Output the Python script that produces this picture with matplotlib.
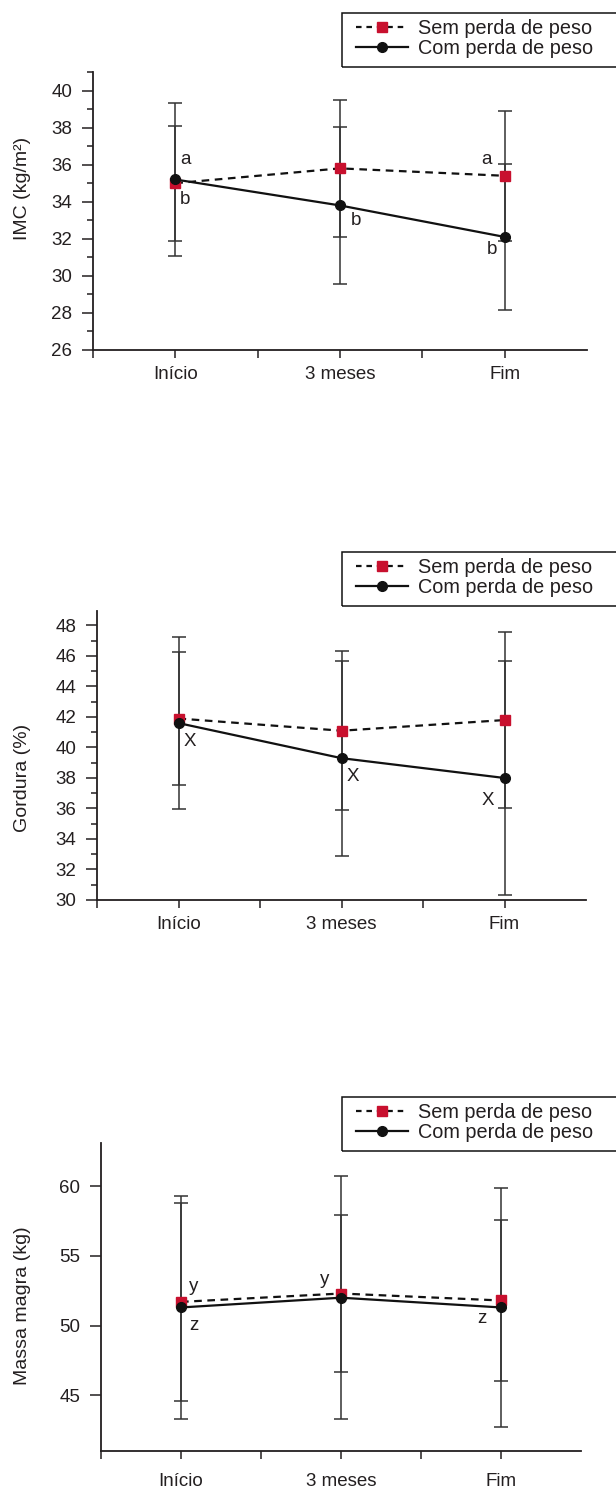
import numpy as np
import matplotlib
matplotlib.use("Agg")
import matplotlib.pyplot as plt
from matplotlib.lines import Line2D
from matplotlib.patches import Rectangle
from matplotlib.ticker import MultipleLocator, FixedLocator

plt.rcParams['font.family'] = ['Liberation Sans', 'DejaVu Sans']
plt.rcParams['lines.scale_dashes'] = False

TXT = '#231f20'
VERM = '#c8102e'

momentos = ["Início", "3 meses", "Fim"]
x = np.array([1, 2, 3])

# IMC (kg/m2)
imc_sem = [35.0, 35.8, 35.4]
imc_sem_dp = [3.1, 3.7, 3.5]
imc_com = [35.2, 33.8, 32.1]
imc_com_dp = [4.15, 4.25, 3.95]

# Gordura (%)
gord_sem = [41.9, 41.1, 41.8]
gord_sem_dp = [4.35, 5.2, 5.8]
gord_com = [41.6, 39.3, 38.0]
gord_com_dp = [5.65, 6.4, 7.65]

# Massa magra (kg)
mm_sem = [51.7, 52.3, 51.8]
mm_sem_dp = [7.1, 5.6, 5.8]
mm_com = [51.3, 52.0, 51.3]
mm_com_dp = [8.0, 8.7, 8.6]

# letras de significancia: (x, y, texto)
imc_letras = [(1.06, 36.3, 'a'), (1.06, 34.1, 'b'), (2.1, 33.0, 'b'),
              (2.89, 36.3, 'a'), (2.92, 31.4, 'b')]
gord_letras = [(1.07, 40.4, 'X'), (2.07, 38.1, 'X'), (2.9, 36.5, 'X')]
mm_letras = [(1.08, 52.8, 'y'), (1.08, 50.0, 'z'), (1.9, 53.3, 'y'), (2.88, 50.5, 'z')]

W, H = 616, 1488
fig = plt.figure(figsize=(W / 100, H / 100), dpi=100)


def painel(rect, sem, sem_dp, com, com_dp, ylim, ymaj, ymin, ylabel, lab_y,
           letras, leg_top, xpad):
    l, r, t, b = rect
    ax = fig.add_axes([l / W, 1 - b / H, (r - l) / W, (b - t) / H])
    ax.errorbar(x, sem, yerr=sem_dp, fmt='none', ecolor='#333333',
                elinewidth=1.1, capsize=5, capthick=1.1, zorder=1)
    ax.errorbar(x, com, yerr=com_dp, fmt='none', ecolor='#333333',
                elinewidth=1.1, capsize=5, capthick=1.1, zorder=1)
    ax.plot(x, sem, color='#111111', lw=1.6, dashes=(5.5, 4), zorder=2,
            marker='s', ms=7, mfc=VERM, mec=VERM)
    ax.plot(x, com, color='#111111', lw=1.6, zorder=3,
            marker='o', ms=7, mfc='#111111', mec='#111111')

    for xx, yy, s in letras:
        ax.text(xx, yy, s, ha='center', va='center', fontsize=13.5, color=TXT)

    ax.set_xlim(0.5, 3.5)
    ax.set_ylim(*ylim)
    ax.set_xticks(x)
    ax.set_xticklabels(momentos)
    ax.xaxis.set_minor_locator(FixedLocator([0.5, 1.5, 2.5]))
    ax.yaxis.set_major_locator(MultipleLocator(ymaj))
    if ymin:
        ax.yaxis.set_minor_locator(MultipleLocator(ymin))
    ax.tick_params(axis='y', which='major', length=8, width=1.1, pad=7,
                   labelsize=13.5, colors=TXT)
    ax.tick_params(axis='y', which='minor', length=4.5, width=1.1, colors=TXT)
    ax.tick_params(axis='x', which='both', length=5.5, width=1.1, pad=xpad,
                   labelsize=13.5, colors=TXT)
    for s in ['top', 'right']:
        ax.spines[s].set_visible(False)
    for s in ['left', 'bottom']:
        ax.spines[s].set_linewidth(1.3)
        ax.spines[s].set_color(TXT)

    ax.set_ylabel(ylabel, fontsize=14, color=TXT)
    ax.yaxis.set_label_coords((31 - l) / (r - l), (b - lab_y) / (b - t))

    # legenda: moldura desenhada a parte, sai pela borda direita
    fig.add_artist(Rectangle((342 / W, 1 - (leg_top + 54) / H), 300 / W, 54 / H,
                             transform=fig.transFigure, fill=False,
                             edgecolor='#111111', lw=1.1))
    handles = [
        Line2D([], [], color='#111111', lw=1.6, dashes=(4, 3.5), marker='s',
               ms=7, mfc=VERM, mec=VERM),
        Line2D([], [], color='#111111', lw=1.6, marker='o', ms=7,
               mfc='#111111', mec='#111111'),
    ]
    leg = ax.legend(handles, ["Sem perda de peso", "Com perda de peso"],
                    loc='upper left', bbox_to_anchor=(356 / W, 1 - (leg_top + 6) / H),
                    bbox_transform=fig.transFigure, frameon=False,
                    borderaxespad=0, borderpad=0, fontsize=14.3,
                    handlelength=2.6, handletextpad=0.5, labelspacing=0.05)
    for t_ in leg.get_texts():
        t_.set_color(TXT)
    return ax


painel((93, 587, 72, 350), imc_sem, imc_sem_dp, imc_com, imc_com_dp,
       (26, 41), 2, 1, "IMC (kg/m²)", 188, imc_letras, 13, 6)
painel((97, 586, 611, 900), gord_sem, gord_sem_dp, gord_com, gord_com_dp,
       (30, 48.95), 2, 1, "Gordura (%)", 778, gord_letras, 552, 6)
painel((101, 581, 1143, 1451), mm_sem, mm_sem_dp, mm_com, mm_com_dp,
       (41, 63.1), 5, None, "Massa magra (kg)", 1306, mm_letras, 1097, 10)

fig.savefig("out.png", dpi=100)
